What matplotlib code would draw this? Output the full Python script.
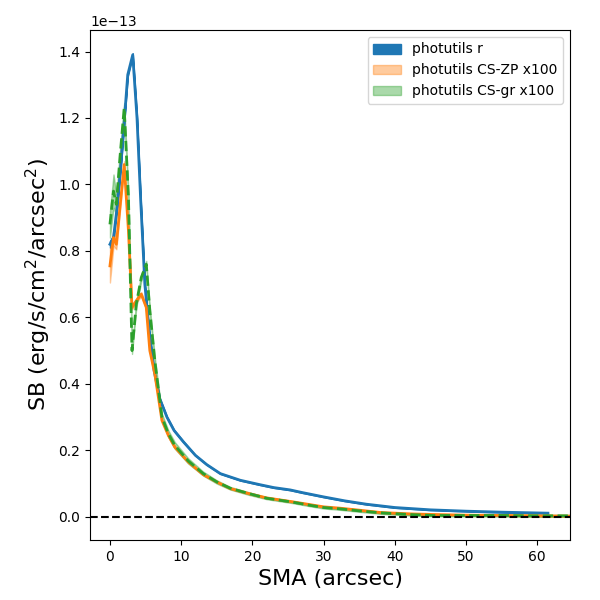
import numpy as np
import matplotlib
matplotlib.use("Agg")
import matplotlib.pyplot as plt

# photutils r profile
sma_r = [0, 0.5, 1.0, 1.5, 1.9, 2.5, 3.2, 3.8, 4.3, 4.9, 5.5, 6.2, 7.0, 8.0, 9.0,
         10.3, 12.0, 13.6, 15.5, 18.3, 21, 23, 25.3, 27, 30, 33, 36, 40, 45, 50, 55, 61.5]
sb_r = [0.82, 0.84, 0.93, 1.05, 1.16, 1.33, 1.39, 1.20, 0.96, 0.70, 0.56, 0.44, 0.355,
        0.30, 0.26, 0.226, 0.185, 0.157, 0.13, 0.11, 0.097, 0.088, 0.081, 0.073, 0.06,
        0.048, 0.038, 0.028, 0.021, 0.017, 0.014, 0.011]
err_r = [0.01, 0.008, 0.006, 0.005, 0.005, 0.005, 0.005, 0.005, 0.004, 0.004, 0.003,
         0.003, 0.002, 0.002, 0.002, 0.002, 0.001, 0.001, 0.001, 0.001, 0.001, 0.001,
         0.001, 0.001, 0.001, 0.001, 0.001, 0.001, 0.001, 0.001, 0.001, 0.001]

# colour-scaled profiles (x100)
sma_cs = [0, 0.5, 0.9, 1.4, 2.0, 2.6, 3.1, 3.7, 4.4, 5.1, 5.6, 6.3, 7.3, 8.2, 9.1, 11,
          13.1, 15, 16.9, 19.5, 22, 25.7, 28, 30, 32.3, 35, 38, 42, 45.4, 50, 55, 60, 64.6]
sb_zp = [0.755, 0.84, 0.82, 0.93, 1.06, 0.86, 0.63, 0.65, 0.67, 0.63, 0.50, 0.43, 0.29,
         0.245, 0.21, 0.165, 0.127, 0.105, 0.085, 0.07, 0.057, 0.045, 0.037, 0.03, 0.026,
         0.02, 0.013, 0.009, 0.007, 0.005, 0.004, 0.003, 0.002]
err_zp = [0.05, 0.025, 0.015, 0.012, 0.01, 0.008, 0.006, 0.006, 0.006, 0.005, 0.004,
          0.004, 0.003, 0.003, 0.003, 0.002, 0.002, 0.002, 0.002, 0.002, 0.002, 0.002,
          0.002, 0.002, 0.002, 0.002, 0.002, 0.002, 0.002, 0.002, 0.002, 0.002, 0.002]
sb_gr = [0.88, 0.98, 0.94, 1.08, 1.23, 0.96, 0.50, 0.64, 0.72, 0.76, 0.62, 0.47, 0.30,
         0.25, 0.215, 0.168, 0.13, 0.105, 0.086, 0.07, 0.056, 0.044, 0.035, 0.028, 0.024,
         0.018, 0.012, 0.007, 0.004, 0.004, 0.004, 0.003, 0.003]
err_gr = [0.04, 0.05, 0.03, 0.02, 0.015, 0.012, 0.01, 0.01, 0.01, 0.01, 0.01, 0.01,
          0.01, 0.01, 0.01, 0.008, 0.006, 0.005, 0.004, 0.004, 0.003, 0.003, 0.003,
          0.003, 0.003, 0.003, 0.003, 0.003, 0.003, 0.003, 0.003, 0.003, 0.003]

scale = 1e-13
sma_r = np.array(sma_r); sb_r = np.array(sb_r) * scale; err_r = np.array(err_r) * scale
sma_cs = np.array(sma_cs)
sb_zp = np.array(sb_zp) * scale; err_zp = np.array(err_zp) * scale
sb_gr = np.array(sb_gr) * scale; err_gr = np.array(err_gr) * scale

fig, ax = plt.subplots(figsize=(6, 6), dpi=100)
fig.subplots_adjust(left=0.15, right=0.95, bottom=0.1, top=0.95)

ax.fill_between(sma_r, sb_r - err_r, sb_r + err_r, color="C0", label="photutils r")
ax.plot(sma_r, sb_r, color="C0", lw=2)
ax.fill_between(sma_cs, sb_zp - err_zp, sb_zp + err_zp, color="C1", alpha=0.4,
                label="photutils CS-ZP x100")
ax.plot(sma_cs, sb_zp, color="C1", lw=2)
ax.fill_between(sma_cs, sb_gr - err_gr, sb_gr + err_gr, color="C2", alpha=0.4,
                label="photutils CS-gr x100")
ax.plot(sma_cs, sb_gr, color="C2", lw=2, ls="--")

ax.axhline(0, color="k", ls="--")
ax.set_xlim(-2.8, 64.6)
ax.set_xlabel("SMA (arcsec)", fontsize=16)
ax.set_ylabel("SB (erg/s/cm$^2$/arcsec$^2$)", fontsize=16)
ax.legend(loc="upper right")

fig.savefig("out.png")
